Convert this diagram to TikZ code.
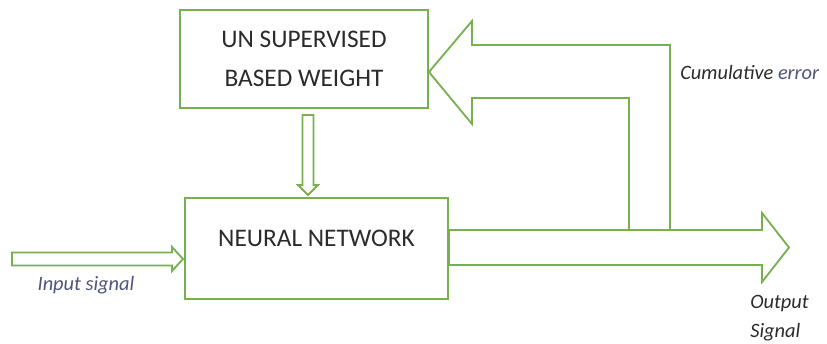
\documentclass[tikz,border=0pt]{standalone}
\usepackage{fontspec}
\setmainfont{Carlito}
\usepackage{tikz}
\usetikzlibrary{positioning}
\usepackage{color}

\begin{document}
\begin{tikzpicture}
			[x=0.025cm,y=-0.025cm,line join=miter,
			%Styles
			block/.style={draw=blockgreen,line width=1.3pt,align=center,
				font=\fontsize{18}{27.5}\selectfont,text=textgray},
			block arrow/.style={draw=blockgreen,line width=1.3pt},
			signal text/.style={font=\fontsize{14.5}{20.5}\selectfont\itshape,inner sep=0pt}
			]
			
			%Colors
			\definecolor{blockgreen}{HTML}{76B04F}	%boxes and arrows
			\definecolor{textgray}{HTML}{2B2B2B}
			\definecolor{signalblue}{HTML}{4E5577}
			
			\useasboundingbox (0,0) rectangle (827,343);
			
			%The graphic
			\node[block,minimum width=6.2cm,minimum height=2.45cm] (weight) at (304,59)
				{UN SUPERVISED\\BASED WEIGHT};
			\node[block,minimum width=6.575cm,minimum height=2.525cm,
				label={[font=\fontsize{18}{22}\selectfont,text=textgray,yshift=0.26cm]center:NEURAL NETWORK}]
				(nn) at (316.5,248.5) {};
			
			%weight -> network
			\draw[block arrow] (302.5,115) -- (313.5,115) -- (313.5,185) -- (318,185)
				-- (308,195) -- (298,185) -- (302.5,185) -- cycle;
			
			%input
			\draw[block arrow] (12,252.5) -- (172,252.5) -- (172,247) -- (183,259)
				-- (172,271) -- (172,265.5) -- (12,265.5) -- cycle;
			
			%output
			\draw[block arrow] (nn.east |- 0,230) -- (762,230) -- (762,213) -- (789,247.5)
				-- (762,282) -- (762,265) -- (nn.east |- 0,265) -- cycle;
			
			%feedback
			\draw[block arrow] (weight.east |- 0,72) -- (472,21) -- (472,45) -- (670,45)
				-- (670,230) -- (629,230) -- (629,98) -- (472,98) -- (472,124) -- cycle;
			
			%labels
			\node[signal text,anchor=west] (cumerr) at (680,72)
				{\textcolor{textgray}{Cumulative} \textcolor{signalblue}{error}};
			\node[signal text,text=signalblue] (insig) at (86,285) {Input signal};
			\node[signal text,text=textgray,align=left,anchor=north west] (outsig) at (750,295)
				{Output\\Signal};
		\end{tikzpicture}
\end{document}
